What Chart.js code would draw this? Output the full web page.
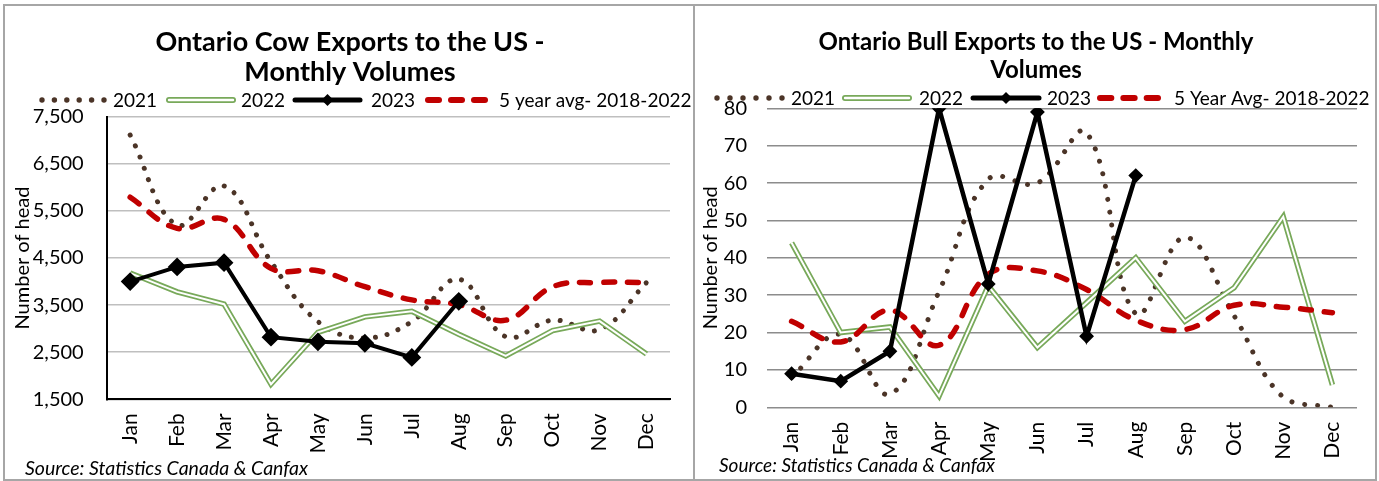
<!DOCTYPE html>
<html><head><meta charset="utf-8">
<script src="https://cdn.jsdelivr.net/npm/chart.js@4.4.1/dist/chart.umd.min.js"></script>
<style>
html,body{margin:0;padding:0;background:#fff;}
body{width:1379px;height:481px;position:relative;overflow:hidden;font-family:Lato,sans-serif;}
.panel{position:absolute;top:4px;height:477px;border:2px solid #a6a6a6;box-sizing:border-box;}
#p1{left:3px;width:692px;}
#p2{left:693px;width:684px;}
canvas{position:absolute;}
#c1{left:5px;top:6px;}
#c2{left:695px;top:6px;}
.src{position:absolute;font-family:Lato,sans-serif;font-style:italic;color:#000;white-space:nowrap;line-height:1;}
</style></head>
<body>
<div class="panel" id="p1"></div>
<div class="panel" id="p2"></div>
<canvas id="c1" width="688" height="473"></canvas>
<canvas id="c2" width="680" height="473"></canvas>
<div class="src" style="left:25px;top:458px;font-size:19.5px;">Source: Statistics Canada &amp; Canfax</div>
<div class="src" style="left:719px;top:455px;font-size:19px;">Source: Statistics Canada &amp; Canfax</div>
<script>
// ---- DATA ----
const months = ['Jan','Feb','Mar','Apr','May','Jun','Jul','Aug','Sep','Oct','Nov','Dec'];

const cowTicks = [1500, 2500, 3500, 4500, 5500, 6500, 7500];
const cow2021 = [7110, 5200, 6030, 4420, 3150, 2800, 3150, 4050, 2830, 3180, 2980, 3980];
const cow2022 = [4180, 3780, 3520, 1820, 2920, 3250, 3370, 2880, 2420, 2960, 3160, 2460];
const cow2023 = [4000, 4310, 4400, 2820, 2720, 2690, 2390, 3580];
const cowAvg  = [5790, 5130, 5320, 4280, 4230, 3890, 3610, 3510, 3180, 3890, 3980, 3980];

const bullTicks = [0, 10, 20, 30, 40, 50, 60, 70, 80];
const bull2021 = [8, 19.5, 3.5, 31, 61, 60, 73.5, 25, 45.5, 24.5, 2.7, 0];
const bull2022 = [44, 20, 21.5, 3, 32.5, 16, 28, 40, 23, 32, 51, 6];
const bull2023 = [9, 7, 15, 80, 33, 79, 19, 62];
const bullAvg  = [23, 17.5, 26, 16.6, 35.6, 36.5, 31.5, 23.3, 20.8, 27.3, 26.8, 25.3];

// ---- STYLE ----
const BROWN = '#4b3427', GREEN = '#78a95a', RED = '#c00000', BLACK = '#000';
Chart.defaults.font.family = 'Lato';
Chart.defaults.color = '#000';

function legendImg(kind, w) {
  const h = 16;
  const c = document.createElement('canvas'); c.width = w; c.height = h;
  const g = c.getContext('2d'); const y = h / 2;
  g.lineCap = 'round';
  const seg = (x0, x1) => { g.beginPath(); g.moveTo(x0, y); g.lineTo(x1, y); g.stroke(); };
  if (kind === 'dot') {
    g.fillStyle = BROWN;
    const step = (w - 6) / 5;
    for (let i = 0; i < 6; i++) { g.beginPath(); g.arc(3 + i * step, y, 2.7, 0, Math.PI * 2); g.fill(); }
  } else if (kind === 'double') {
    g.strokeStyle = GREEN; g.lineWidth = 6; seg(3, w - 3);
    g.strokeStyle = '#fff'; g.lineWidth = 2.4; seg(3, w - 3);
  } else if (kind === 'black') {
    g.strokeStyle = BLACK; g.lineWidth = 5; seg(3, w - 3);
    const cx = w / 2; g.fillStyle = BLACK; g.beginPath();
    g.moveTo(cx - 6, y); g.lineTo(cx, y - 6); g.lineTo(cx + 6, y); g.lineTo(cx, y + 6); g.closePath(); g.fill();
  } else if (kind === 'dash') {
    g.strokeStyle = RED; g.lineWidth = 6;
    const d = (w + 6) / 3;
    for (let i = 0; i < 3; i++) seg(3 + i * d, i * d + d - 9);
  }
  return c;
}

// title + legend drawn through a small chart plugin (positions are layout, in canvas px)
const headerPlugin = {
  id: 'header',
  afterDraw(chart, args, o) {
    const ctx = chart.ctx; ctx.save();
    ctx.fillStyle = '#000'; ctx.textBaseline = 'middle';
    ctx.font = 'bold ' + o.titleSize + 'px Lato'; ctx.textAlign = 'center';
    o.title.forEach((t, i) => ctx.fillText(t, o.titleX, o.titleY[i]));
    ctx.font = o.fontSize + 'px Lato'; ctx.textAlign = 'left';
    o.items.forEach(it => {
      const img = legendImg(it.kind, it.x1 - it.x0);
      ctx.drawImage(img, it.x0, o.y - img.height / 2);
      ctx.fillText(it.text, it.tx, o.y + 1);
    });
    ctx.restore();
  }
};

function makeChart(id, cfg) {
  return new Chart(document.getElementById(id), {
    type: 'line',
    data: {
      labels: months,
      datasets: [
        {label: '2023', data: cfg.d2023, borderColor: BLACK, backgroundColor: BLACK, borderWidth: cfg.blackW,
         pointStyle: 'rectRot', pointRadius: cfg.ptR, pointHoverRadius: cfg.ptR, pointBorderWidth: 2,
         pointBackgroundColor: BLACK, pointBorderColor: BLACK, tension: 0, order: 0},
        {label: cfg.avgLabel, data: cfg.dAvg, borderColor: RED, borderWidth: 5.5, borderDash: [11, 13],
         borderCapStyle: 'round', pointRadius: 0, tension: 0.4, order: 1},
        {label: '_inner', data: cfg.d2022, borderColor: '#fff', borderWidth: 2, borderJoinStyle: 'miter',
         pointRadius: 0, tension: 0, order: 2},
        {label: '2022', data: cfg.d2022, borderColor: GREEN, borderWidth: 5.5, borderJoinStyle: 'miter',
         pointRadius: 0, tension: 0, order: 3},
        {label: '2021', data: cfg.d2021, borderColor: BROWN, borderWidth: 5, borderDash: [0.01, cfg.dotGap],
         borderCapStyle: 'round', pointRadius: 0, tension: 0.4, order: 4}
      ]
    },
    plugins: [headerPlugin],
    options: {
      responsive: false, animation: false, devicePixelRatio: 1,
      layout: {padding: cfg.pad},
      plugins: {
        tooltip: {enabled: false},
        legend: {display: false},
        title: {display: false},
        header: {title: cfg.title, titleSize: cfg.titleSize, titleX: cfg.titleX, titleY: cfg.titleY,
          y: cfg.legendY, fontSize: 19, items: [
          {kind: 'dot', text: '2021', x0: cfg.lg[0], x1: cfg.lg[1], tx: cfg.lg[2]},
          {kind: 'double', text: '2022', x0: cfg.lg[3], x1: cfg.lg[4], tx: cfg.lg[5]},
          {kind: 'black', text: '2023', x0: cfg.lg[6], x1: cfg.lg[7], tx: cfg.lg[8]},
          {kind: 'dash', text: cfg.avgLabel, x0: cfg.lg[9], x1: cfg.lg[10], tx: cfg.lg[11]}
        ]}
      },
      scales: {
        x: {offset: true, grid: {display: false, drawTicks: false},
            border: cfg.xBorder,
            ticks: {minRotation: 90, maxRotation: 90, autoSkip: false, padding: cfg.xPad, color: '#000',
                    font: {family: 'Lato', size: 21}},
            afterFit: a => { a.height = 60; }},
        y: {min: cfg.ticks[0], max: cfg.ticks[cfg.ticks.length - 1],
            grid: {color: cfg.gridColor, lineWidth: 1.5, drawTicks: false},
            border: cfg.yBorder,
            ticks: {stepSize: cfg.ticks[1] - cfg.ticks[0], padding: cfg.yPad, color: '#000',
                    font: {family: 'Lato', size: 20}},
            title: {display: true, text: 'Number of head', color: '#000',
                    font: {family: 'Lato', size: 20}, padding: {top: 0, bottom: 0}},
            afterFit: a => { a.width = cfg.yW; }}
      }
    }
  });
}

// canvas 1 sits at body x=5, y=6 ; canvas 2 at body x=695, y=6
makeChart('c1', {
  title: ['Ontario Cow Exports to the US -', 'Monthly Volumes'], titleSize: 27, titleX: 345, titleY: [36, 66],
  avgLabel: '5 year avg- 2018-2022', legendY: 94,
  lg: [34, 102, 108, 161, 231, 236, 287, 358, 366, 420, 483, 494],
  d2021: cow2021, d2022: cow2022, d2023: cow2023, dAvg: cowAvg, ticks: cowTicks,
  pad: {left: 6, right: 23, top: 110.7, bottom: 19.7}, yW: 95.7, yPad: 23, xPad: 14,
  gridColor: '#bfbfbf', blackW: 4, ptR: 8, dotGap: 12,
  xBorder: {display: true, color: '#000', width: 2}, yBorder: {display: true, color: '#000', width: 2}
});

makeChart('c2', {
  title: ['Ontario Bull Exports to the US - Monthly', 'Volumes'], titleSize: 24, titleX: 341, titleY: [36, 64],
  avgLabel: '5 Year Avg- 2018-2022', legendY: 92,
  lg: [19, 90, 96, 147, 217, 224, 275, 347, 352, 402, 466, 479],
  d2021: bull2021, d2022: bull2022, d2023: bull2023, dAvg: bullAvg, ticks: bullTicks,
  pad: {left: 4, right: 18, top: 102.3, bottom: 11.7}, yW: 68, yPad: 20, xPad: 14.4,
  gridColor: '#8c8c8c', blackW: 4.5, ptR: 6, dotGap: 13,
  xBorder: {display: false}, yBorder: {display: false}
});
</script>
</body></html>
